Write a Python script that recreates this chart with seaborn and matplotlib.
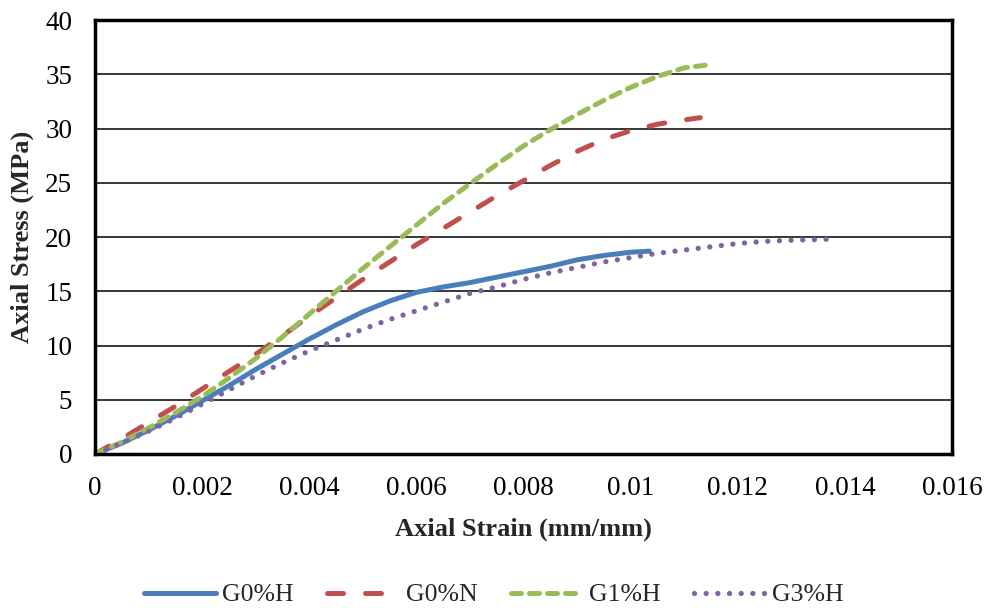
import matplotlib
matplotlib.use("Agg")
import matplotlib.pyplot as plt
import seaborn as sns

# Axial stress-strain curves per specimen
labels = ["G0%H", "G0%N", "G1%H", "G3%H"]

g0h_strain = [0, 0.0005, 0.001, 0.0015, 0.002, 0.0025, 0.003, 0.0035, 0.004, 0.0045,
              0.005, 0.0055, 0.006, 0.0065, 0.007, 0.0075, 0.008, 0.0085, 0.009,
              0.0095, 0.01, 0.01035]
g0h_stress = [0, 1.0, 2.2, 3.5, 4.9, 6.3, 7.8, 9.2, 10.6, 11.9,
              13.1, 14.1, 14.9, 15.4, 15.8, 16.3, 16.8, 17.3, 17.9,
              18.3, 18.6, 18.7]

g0n_strain = [0, 0.0005, 0.001, 0.0015, 0.002, 0.0025, 0.003, 0.0035, 0.004, 0.0045,
              0.005, 0.0055, 0.006, 0.0065, 0.007, 0.0075, 0.008, 0.0085, 0.009,
              0.0095, 0.01, 0.0105, 0.011, 0.0113]
g0n_stress = [0, 1.4, 2.9, 4.4, 6.0, 7.6, 9.2, 10.9, 12.7, 14.4,
              16.1, 17.7, 19.3, 20.8, 22.3, 23.8, 25.2, 26.6, 27.9,
              29.0, 29.8, 30.4, 30.8, 31.0]

g1h_strain = [0, 0.0005, 0.001, 0.0015, 0.002, 0.0025, 0.003, 0.0035, 0.004, 0.0045,
              0.005, 0.0055, 0.006, 0.0065, 0.007, 0.0075, 0.008, 0.0085, 0.009,
              0.0095, 0.01, 0.0105, 0.011, 0.0115]
g1h_stress = [0, 1.1, 2.4, 3.8, 5.3, 7.0, 8.8, 10.8, 12.9, 15.0,
              17.1, 19.1, 21.1, 23.1, 24.9, 26.7, 28.4, 29.9, 31.3,
              32.6, 33.8, 34.8, 35.6, 35.9]

g3h_strain = [0, 0.0005, 0.001, 0.0015, 0.002, 0.0025, 0.003, 0.0035, 0.004, 0.0045,
              0.005, 0.0055, 0.006, 0.0065, 0.007, 0.0075, 0.008, 0.0085, 0.009,
              0.0095, 0.01, 0.0105, 0.011, 0.0115, 0.012, 0.0125, 0.013, 0.0137]
g3h_stress = [0, 1.0, 2.1, 3.3, 4.6, 5.9, 7.2, 8.4, 9.5, 10.5,
              11.5, 12.4, 13.2, 14.0, 14.8, 15.4, 16.1, 16.7, 17.2,
              17.7, 18.1, 18.5, 18.8, 19.1, 19.4, 19.6, 19.7, 19.8]

x_ticks = [0, 0.002, 0.004, 0.006, 0.008, 0.01, 0.012, 0.014, 0.016]
x_tick_labels = ["0", "0.002", "0.004", "0.006", "0.008", "0.01", "0.012", "0.014", "0.016"]
y_ticks = [0, 5, 10, 15, 20, 25, 30, 35, 40]

sns.set_theme(style="white")
plt.rcParams["font.family"] = ["Liberation Serif", "DejaVu Serif"]
plt.rcParams["font.size"] = 19

fig, ax = plt.subplots(figsize=(9.88, 6.08), dpi=100)
fig.subplots_adjust(left=0.0962, right=0.9636, bottom=0.2533, top=0.967)

styles = [
    dict(color="#4A7EBB", linewidth=3.6, linestyle="-"),
    dict(color="#C0504D", linewidth=3.6, linestyle=(0, (3.2, 4.4))),
    dict(color="#9BBB59", linewidth=3.6, linestyle=(0, (2.0, 1.6))),
    dict(color="#8064A2", linewidth=3.8, linestyle=(0, (0.01, 2.2))),
]
series = [(g0h_strain, g0h_stress), (g0n_strain, g0n_stress),
          (g1h_strain, g1h_stress), (g3h_strain, g3h_stress)]

for name, (xs, ys), st in zip(labels, series, styles):
    sns.lineplot(x=xs, y=ys, ax=ax, label=name, estimator=None, sort=False,
                 legend=False, dash_capstyle="round", solid_capstyle="round", **st)

leg = ax.get_legend()
if leg is not None:
    leg.remove()

ax.set_xlim(0, 0.016)
ax.set_ylim(0, 40)
ax.set_xticks(x_ticks)
ax.set_xticklabels(x_tick_labels)
ax.set_yticks(y_ticks)
ax.set_yticklabels([str(v) for v in y_ticks])

ax.yaxis.grid(True, color="black", linewidth=1.1)
ax.xaxis.grid(False)
ax.set_axisbelow(True)

for sp in ax.spines.values():
    sp.set_visible(True)
    sp.set_color("black")
    sp.set_linewidth(2.5)

ax.tick_params(axis="both", direction="inout", length=11, width=2.2, colors="black",
               labelsize=19.5, labelcolor="black")
ax.tick_params(axis="x", pad=10)
ax.tick_params(axis="y", pad=11)

ax.set_xlabel("Axial Strain (mm/mm)", fontweight="bold", fontsize=19, labelpad=12)
ax.set_ylabel("Axial Stress (MPa)", fontweight="bold", fontsize=19, labelpad=8)

handles = ax.get_lines()[:4]
fig.legend(handles, labels, loc="center", bbox_to_anchor=(0.5, 1 - 595 / 608),
           ncol=4, frameon=False, fontsize=18.5, handlelength=2.8,
           handletextpad=0.25, columnspacing=1.3)

fig.savefig("out.png", dpi=100, facecolor="white")
